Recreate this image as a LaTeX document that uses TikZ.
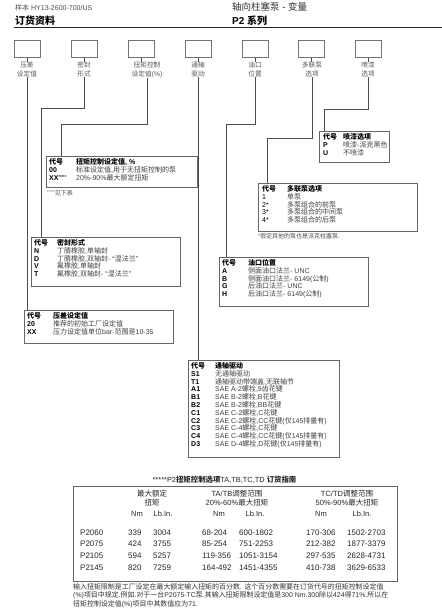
\documentclass[tikz,border=0pt]{standalone}
\usepackage{fontspec}
\setmainfont{Liberation Sans}
\newfontfamily\cjk{Noto Sans CJK SC}
\XeTeXinterchartokenstate=1
\newXeTeXintercharclass\cjkcls
\makeatletter
\def\setcls#1#2{\count@=#1\relax\loop\XeTeXcharclass\count@=\cjkcls\ifnum\count@<#2\advance\count@ by 1\repeat}
\setcls{"3000}{"303F}
\setcls{"4E00}{"9FFF}
\setcls{"FF00}{"FFEF}
\makeatother
\XeTeXinterchartoks 0 \cjkcls = {\cjk}
\XeTeXinterchartoks 4095 \cjkcls = {\cjk}
\XeTeXinterchartoks \cjkcls 0 = {\rmfamily}
\XeTeXinterchartoks \cjkcls 4095 = {\rmfamily}

\tikzset{
  sbox/.style={draw=black!55, line width=0.7pt, minimum width=26pt, minimum height=17pt, inner sep=0pt, anchor=north west},
  slab/.style={anchor=north, inner sep=0pt, align=center, font=\fontsize{6.7}{9}\selectfont, text=black!65},
  conn/.style={draw=black!70, line width=0.6pt},
  dbox/.style 2 args={draw=black!60, line width=0.7pt, anchor=north west, inner sep=0pt, minimum width=#1, minimum height=#2},
  dcode/.style={anchor=base west, inner sep=0pt, font=\bfseries\fontsize{7}{8}\selectfont, text=black},
  ddesc/.style={anchor=base west, inner sep=0pt, font=\fontsize{7}{8}\selectfont, text=black!75},
  dhead/.style={anchor=base west, inner sep=0pt, font=\bfseries\fontsize{7}{8}\selectfont, text=black},
  fnote/.style={anchor=base west, inner sep=0pt, font=\fontsize{6}{7}\selectfont, text=black!70},
  thead/.style={anchor=center, inner sep=0pt, align=center, font=\fontsize{7.5}{9}\selectfont, text=black!85},
  tunit/.style={anchor=base, inner sep=0pt, font=\fontsize{7.5}{9}\selectfont, text=black!85},
  tnum/.style={anchor=base west, inner sep=0pt, font=\fontsize{8}{9}\selectfont, text=black!85},
  para/.style={anchor=base west, inner sep=0pt, font=\fontsize{6.95}{8}\selectfont, text=black!80},
}

% name, codeX, descX, first baseline, header, rows
\newcommand\drows[6]{%
  \node[dhead] (#1h0) at (#2,#4) {代号};
  \node[dhead] (#1h1) at (#3,#4) {#5};
  \foreach \rc/\rd [count=\i] in {#6} {
    \pgfmathsetmacro\yy{#4+\i*7.8}
    \node[dcode] (#1c\i) at (#2,\yy) {\rc};
    \node[ddesc] (#1d\i) at (#3,\yy) {\rd};
  }}

\begin{document}
\begin{tikzpicture}[x=1pt,y=-1pt]
\fill[white] (0,0) rectangle (442,614);
\useasboundingbox (0,0) rectangle (442,614);

% header
\node[anchor=base west, inner sep=0pt, font=\fontsize{7}{8}\selectfont, text=black!70] (hdrA) at (15,10.8) {样本 HY13-2600-700/US};
\node[anchor=base west, inner sep=0pt, font=\bfseries\fontsize{10}{12}\selectfont] (hdrB) at (15,24.3) {订货资料};
\node[anchor=base west, inner sep=0pt, font=\fontsize{9.5}{11}\selectfont, text=black!80] (hdrC) at (232,10.2) {轴向柱塞泵 - 变量};
\node[anchor=base west, inner sep=0pt, font=\bfseries\fontsize{10}{12}\selectfont] (hdrD) at (232,24.3) {P2 系列};
\coordinate (ruleL) at (14,27.3);
\coordinate (ruleR) at (442,27.3);
\draw[line width=1.3pt, black!85] (ruleL) -- (ruleR);

% small code boxes
\node[sbox] (b1) at (14,40) {};
\node[sbox] (b2) at (71,40) {};
\node[sbox] (b3) at (128,40) {};
\node[sbox] (b4) at (185,40) {};
\node[sbox] (b5) at (242,40) {};
\node[sbox] (b6) at (298,40) {};
\node[sbox] (b7) at (355,40) {};

\node[slab] (lab1) at (27,61.8) {压差\\设定值};
\node[slab] (lab2) at (84,61.8) {密封\\形式};
\node[slab] (lab3) at (147,61.8) {扭矩控制\\设定值(\%)};
\node[slab] (lab4) at (198,61.8) {通轴\\驱动};
\node[slab] (lab5) at (255,61.8) {油口\\位置};
\node[slab] (lab6) at (312,61.8) {多联泵\\选项};
\node[slab] (lab7) at (368,61.8) {喷漆\\选项};

\foreach \k in {1,...,7} {\draw[conn] (b\k.south) -- (b\k.south |- lab\k.north);}

% detail boxes
\node[dbox={70pt}{31pt}] (dJ) at (319,131) {};
\node[dbox={159pt}{48pt}] (dM) at (258,183) {};
\node[dbox={151pt}{31pt}] (dT) at (46,156) {};
\node[dbox={149pt}{49pt}] (dS) at (31,237) {};
\node[dbox={149pt}{49pt}] (dO) at (219,257) {};
\node[dbox={149pt}{33pt}] (dP) at (24,310) {};
\node[dbox={151pt}{97pt}] (dD) at (188,360) {};

% connectors
\coordinate (k2) at (41,108);
\coordinate (k3) at (61,124);
\coordinate (k5) at (226,124);
\coordinate (k6) at (267,138);
\coordinate (k7) at (324,109);
\draw[conn] (lab1.south) -- (lab1.south |- dP.north);
\draw[conn] (lab2.south) |- (k2) -- (k2 |- dS.north);
\draw[conn] (lab3.south) |- (k3) -- (k3 |- dT.north);
\draw[conn] (lab4.south) -- (lab4.south |- dD.north);
\draw[conn] (lab5.south) |- (k5) -- (k5 |- dO.north);
\draw[conn] (lab6.south) |- (k6) -- (k6 |- dM.north);
\draw[conn] (lab7.south) |- (k7) -- (k7 |- dJ.north);

% box contents
\drows{J}{323}{343}{139.5}{喷漆选项}{P/喷漆-派克黑色, U/不喷漆}
\drows{M}{262}{287}{191.5}{多联泵选项}{{\mdseries 1}/单泵, {\mdseries 2*}/多泵组合的前泵, {\mdseries 3*}/多泵组合的中间泵, {\mdseries 4*}/多泵组合的后泵}
\node[fnote] (fnM) at (258,238) {\raisebox{1pt}{\fontsize{5}{5}\selectfont *}假定其他的泵也是派克柱塞泵.};
\drows{T}{49}{76}{164.5}{扭矩控制设定值, \%}{00/{标准设定值,用于无扭矩控制的泵}, {XX\raisebox{1.5pt}{\fontsize{4}{4}\selectfont *****}}/20\%-90\%最大额定扭矩}
\node[fnote] (fnT) at (47,195) {\raisebox{1.3pt}{\fontsize{4}{4}\selectfont *****}见下表};
\drows{S}{34}{57}{245.5}{密封形式}{N/{丁腈橡胶,单轴封}, D/{丁腈橡胶,双轴封- “湿法兰”}, V/{氟橡胶,单轴封}, T/{氟橡胶,双轴封- “湿法兰”}}
\drows{O}{222}{248}{265.5}{油口位置}{A/侧面油口法兰- UNC, B/侧面油口法兰- 6149(公制), G/后油口法兰- UNC, H/后油口法兰- 6149(公制)}
\drows{P}{27}{53}{318.5}{压差设定值}{20/推荐的初始工厂设定值, XX/压力设定值单位bar-范围是10-35}
\drows{D}{191}{215}{368.5}{通轴驱动}{S1/无通轴驱动, T1/{通轴驱动带端盖,无联轴节}, A1/{SAE A-2螺栓,9齿花键}, B1/{SAE B-2螺栓,B花键}, B2/{SAE B-2螺栓,BB花键}, C1/{SAE C-2螺栓,C花键}, C2/{SAE C-2螺栓,CC花键(仅145排量有)}, C3/{SAE C-4螺栓,C花键}, C4/{SAE C-4螺栓,CC花键(仅145排量有)}, D3/{SAE D-4螺栓,D花键(仅145排量有)}}

% table
\node[anchor=base, inner sep=0pt, font=\fontsize{7.4}{9}\selectfont, text=black!85] (ttl) at (224.5,482.5) {*****P2\textbf{扭矩控制选项}TA,TB,TC,TD \textbf{订货指南}};
\node[draw=black!60, line width=0.7pt, anchor=north west, minimum width=324pt, minimum height=95pt, inner sep=0pt] (tab) at (73,486) {};
\node[thead] (th1) at (152,498.5) {最大额定\\扭矩};
\node[thead] (th2) at (237,498.5) {TA/TB调整范围\\20\%-60\%最大扭矩};
\node[thead] (th3) at (347,498.5) {TC/TD调整范围\\50\%-90\%最大扭矩};
\foreach \ux/\ut [count=\j] in {137/Nm, 163/Lb.In., 219/Nm, 255/Lb.In., 321/Nm, 362/Lb.In.} {
  \node[tunit] (tu\j) at (\ux,516.5) {\ut};
}
\foreach \va/\vb/\vc/\vd/\ve/\vf/\vg [count=\i] in {
  P2060/339/3004/68-204/600-1802/170-306/1502-2703,
  P2075/424/3755/85-254/751-2253/212-382/1877-3379,
  P2105/594/5257/119-356/1051-3154/297-535/2628-4731,
  P2145/820/7259/164-492/1451-4355/410-738/3629-6533} {
  \pgfmathsetmacro\yy{535+(\i-1)*11.7}
  \node[tnum] (t\i a) at (80,\yy) {\va};
  \node[tnum] (t\i b) at (128,\yy) {\vb};
  \node[tnum] (t\i c) at (153,\yy) {\vc};
  \node[tnum] (t\i d) at (202,\yy) {\vd};
  \node[tnum] (t\i e) at (239,\yy) {\ve};
  \node[tnum] (t\i f) at (306,\yy) {\vf};
  \node[tnum] (t\i g) at (347,\yy) {\vg};
}

% paragraph
\node[para] (p1) at (73,589.8) {输入扭矩限制是工厂设定在最大额定输入扭矩的百分数. 这个百分数需要在订货代号的扭矩控制设定值};
\node[para] (p2) at (73,597.8) {(\%)项目中规定.例如.对于一台P2075-TC泵.其输入扭矩限制设定值是300 Nm.300除以424得71\%.所以在};
\node[para] (p3) at (73,606.3) {扭矩控制设定值(\%)项目中其数值应为71.};
\end{tikzpicture}
\end{document}
